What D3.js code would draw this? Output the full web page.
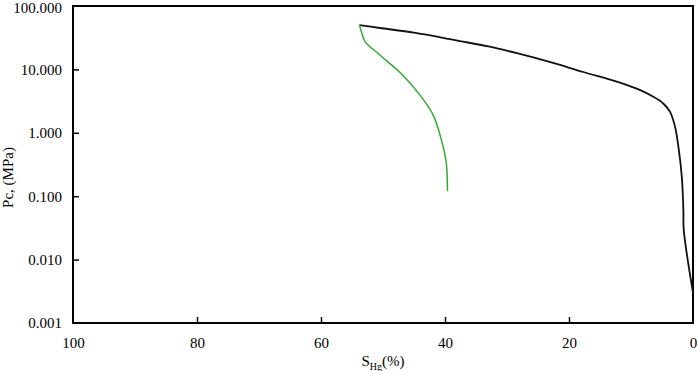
<!DOCTYPE html>
<html>
<head>
<meta charset="utf-8">
<script src="https://cdn.jsdelivr.net/npm/d3@7/dist/d3.min.js"></script>
<style>
  body { margin: 0; background: #fff; }
  text { font-family: "Liberation Serif", "Times New Roman", "DejaVu Serif", serif; fill: #000; }
</style>
</head>
<body>
<div id="chart"></div>
<script>
// mercury injection (black) and withdrawal (green), S_Hg in %, Pc in MPa
const injectionS  = [53.8, 50.5, 45, 39.2, 37.6, 33, 28.4, 23, 17.7, 11.8, 8.5, 6.4, 4.8, 3.7, 2.9, 2.35, 1.8, 1.55, 1.5, 0];
const injectionPc = [50, 45, 38, 30, 28, 23, 18, 13, 9.1, 6.2, 4.7, 3.7, 2.9, 2.14, 1.25, 0.6, 0.2, 0.06, 0.03, 0.003];

const withdrawalS  = [53.8, 53.5, 52.9, 50.5, 46.8, 44, 41.9, 40.5, 39.8, 39.6];
const withdrawalPc = [50, 40, 27.5, 16.9, 8.1, 3.9, 1.9, 0.72, 0.34, 0.12];

const xTicks = [100, 80, 60, 40, 20, 0];
const yTicks = [0.001, 0.01, 0.1, 1, 10, 100];

const width = 699, height = 371;
const margin = { top: 6, right: 6, bottom: 48, left: 73 };

const svg = d3.select("#chart").append("svg")
  .attr("width", width)
  .attr("height", height);

const x = d3.scaleLinear()
  .domain([100, 0])
  .range([margin.left, width - margin.right]);

const y = d3.scaleLog()
  .domain([0.001, 100])
  .range([height - margin.bottom, margin.top]);

// frame
svg.append("rect")
  .attr("x", x(100))
  .attr("y", y(100))
  .attr("width", x(0) - x(100))
  .attr("height", y(0.001) - y(100))
  .attr("fill", "none")
  .attr("stroke", "#000")
  .attr("stroke-width", 2);

const xAxis = d3.axisBottom(x)
  .tickValues(xTicks)
  .tickSize(-6)
  .tickPadding(14)
  .tickFormat(d3.format("d"));

const yAxis = d3.axisLeft(y)
  .tickValues(yTicks)
  .tickSize(-6)
  .tickPadding(11)
  .tickFormat(d3.format(".3f"));

svg.append("g")
  .attr("transform", `translate(0,${y(0.001)})`)
  .call(xAxis)
  .call(g => g.select(".domain").remove())
  .call(g => g.selectAll(".tick line").attr("stroke-width", 1.5).filter(d => d === 100 || d === 0).remove())
  .call(g => g.selectAll(".tick text").attr("font-size", 15));

svg.append("g")
  .attr("transform", `translate(${x(100)},0)`)
  .call(yAxis)
  .call(g => g.select(".domain").remove())
  .call(g => g.selectAll(".tick line").attr("stroke-width", 1.5).filter(d => d === 0.001 || d === 100).remove())
  .call(g => g.selectAll(".tick text").attr("font-size", 15))
  // keep the top label inside the picture
  .call(g => g.selectAll(".tick text").filter(d => d === 100).attr("dy", "0.45em"));

const line = d3.line()
  .x(d => x(d[0]))
  .y(d => y(d[1]))
  .curve(d3.curveCatmullRom.alpha(0.5));

svg.append("path")
  .datum(d3.zip(injectionS, injectionPc))
  .attr("fill", "none")
  .attr("stroke", "#111")
  .attr("stroke-width", 1.8)
  .attr("d", line);

svg.append("path")
  .datum(d3.zip(withdrawalS, withdrawalPc))
  .attr("fill", "none")
  .attr("stroke", "#33aa33")
  .attr("stroke-width", 1.5)
  .attr("d", line);

// axis titles
const xt = svg.append("text")
  .attr("x", (x(100) + x(0)) / 2)
  .attr("y", 366)
  .attr("text-anchor", "middle")
  .attr("font-size", 15);
xt.append("tspan").text("S");
xt.append("tspan").attr("font-size", 10).attr("dy", 4).text("Hg");
xt.append("tspan").attr("dy", -4).text("(%)");

svg.append("text")
  .attr("transform", `translate(13,${(y(100) + y(0.001)) / 2 + 13}) rotate(-90)`)
  .attr("text-anchor", "middle")
  .attr("font-size", 15)
  .text("Pc, (MPa)");
</script>
</body>
</html>
